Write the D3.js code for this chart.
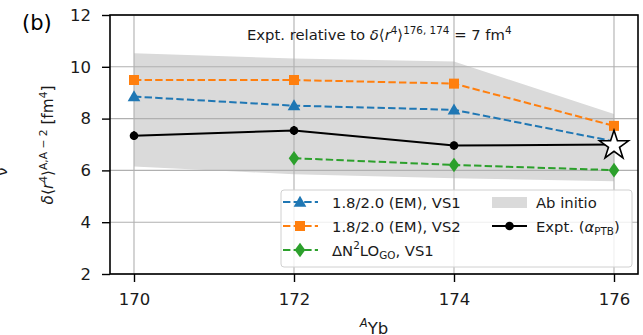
<!DOCTYPE html>
<html>
<head>
<meta charset="utf-8">
<script src="https://cdn.jsdelivr.net/npm/d3@7"></script>
<style>
  body { margin: 0; background: #fff; }
  svg { font-family: "DejaVu Sans", sans-serif; }
</style>
</head>
<body>
<div id="chart"></div>
<script>
// isotopes (mass number A)
const isotopes = [170, 172, 174, 176];
const vs1 = [8.85, 8.5, 8.34, 7.12];
const vs2 = [9.49, 9.49, 9.35, 7.72];
const dn2loIso = [172, 174, 176];
const dn2lo = [6.47, 6.21, 6.01];
const expt = [7.34, 7.54, 6.96, 7.0];
const exptErr = [0.17, 0.17, 0.15, 0];
const bandUpper = [10.52, 10.32, 10.2, 8.18];
const bandLower = [6.15, 5.85, 5.7, 5.58];
const xTicks = [170, 172, 174, 176];
const yTicks = [2, 4, 6, 8, 10, 12];

const width = 643, height = 335;
const plotLeft = 110, plotRight = 638, plotTop = 15, plotBottom = 274;

const svg = d3.select("#chart").append("svg")
    .attr("width", width)
    .attr("height", height);

const x = d3.scaleLinear().domain([169.7, 176.3]).range([plotLeft, plotRight]);
const y = d3.scaleLinear().domain([2, 12]).range([plotBottom, plotTop]);

const blue = "#1f77b4", orange = "#ff7f0e", green = "#2ca02c";

// ab initio band
const band = d3.area()
    .x(function (d, i) { return x(isotopes[i]); })
    .y0(function (d, i) { return y(bandLower[i]); })
    .y1(function (d) { return y(d); });
svg.append("path")
    .datum(bandUpper)
    .attr("d", band)
    .attr("fill", "#dadada");

// grid
const grid = svg.append("g").attr("stroke", "#b0b0b0").attr("stroke-width", 1.1);
grid.selectAll(".gx").data(xTicks).enter().append("line")
    .attr("x1", function (d) { return x(d); }).attr("x2", function (d) { return x(d); })
    .attr("y1", plotTop).attr("y2", plotBottom);
grid.selectAll(".gy").data(yTicks).enter().append("line")
    .attr("y1", function (d) { return y(d); }).attr("y2", function (d) { return y(d); })
    .attr("x1", plotLeft).attr("x2", plotRight);

// axes
const xAxis = svg.append("g")
    .attr("transform", "translate(0," + plotBottom + ")")
    .call(d3.axisBottom(x).tickValues(xTicks).tickSize(8).tickPadding(11).tickFormat(d3.format("d")));
const yAxis = svg.append("g")
    .attr("transform", "translate(" + plotLeft + ",0)")
    .call(d3.axisLeft(y).tickValues(yTicks).tickSize(8).tickPadding(11).tickFormat(d3.format("d")));
[xAxis, yAxis].forEach(function (a) {
    a.select(".domain").remove();
    a.selectAll("line").attr("stroke", "#000").attr("stroke-width", 1.4);
    a.selectAll("text").attr("font-size", 16.5).attr("fill", "#1a1a1a")
        .attr("font-family", "DejaVu Sans, sans-serif");
});

// frame
svg.append("rect")
    .attr("x", plotLeft).attr("y", plotTop)
    .attr("width", plotRight - plotLeft).attr("height", plotBottom - plotTop)
    .attr("fill", "none").attr("stroke", "#000").attr("stroke-width", 1.6);

const line = d3.line();

function dashedSeries(xs, ys, color) {
    svg.append("path")
        .attr("d", line(xs.map(function (v, i) { return [x(v), y(ys[i])]; })))
        .attr("fill", "none").attr("stroke", color)
        .attr("stroke-width", 2).attr("stroke-dasharray", "7.4,3.2");
}

const tri = d3.symbol().type(d3.symbolTriangle).size(70);
const sq = d3.symbol().type(d3.symbolSquare).size(100);
const dia = d3.symbol().type(d3.symbolDiamond).size(62);

// VS1
dashedSeries(isotopes, vs1, blue);
svg.append("g").selectAll("path").data(vs1).enter().append("path")
    .attr("d", tri)
    .attr("transform", function (d, i) { return "translate(" + x(isotopes[i]) + "," + (y(d) + 1) + ")"; })
    .attr("fill", blue);

// VS2
dashedSeries(isotopes, vs2, orange);
svg.append("g").selectAll("path").data(vs2).enter().append("path")
    .attr("d", sq)
    .attr("transform", function (d, i) { return "translate(" + x(isotopes[i]) + "," + y(d) + ")"; })
    .attr("fill", orange);

// DN2LO GO
dashedSeries(dn2loIso, dn2lo, green);
svg.append("g").selectAll("path").data(dn2lo).enter().append("path")
    .attr("d", dia)
    .attr("transform", function (d, i) { return "translate(" + x(dn2loIso[i]) + "," + y(d) + ") scale(1.25,1)"; })
    .attr("fill", green);

// experiment
svg.append("path")
    .attr("d", line(isotopes.map(function (v, i) { return [x(v), y(expt[i])]; })))
    .attr("fill", "none").attr("stroke", "#000").attr("stroke-width", 2);
svg.append("g").selectAll("line").data(expt.slice(0, 3)).enter().append("line")
    .attr("x1", function (d, i) { return x(isotopes[i]); })
    .attr("x2", function (d, i) { return x(isotopes[i]); })
    .attr("y1", function (d, i) { return y(d - exptErr[i]); })
    .attr("y2", function (d, i) { return y(d + exptErr[i]); })
    .attr("stroke", "#000").attr("stroke-width", 2);
svg.append("g").selectAll("circle").data(expt.slice(0, 3)).enter().append("circle")
    .attr("cx", function (d, i) { return x(isotopes[i]); })
    .attr("cy", function (d) { return y(d); })
    .attr("r", 4.3).attr("fill", "#000");
svg.append("path")
    .attr("d", d3.symbol().type(d3.symbolStar).size(260)())
    .attr("transform", "translate(" + x(isotopes[3]) + "," + (y(expt[3]) + 1) + ")")
    .attr("fill", "#fff").attr("stroke", "#000").attr("stroke-width", 1.6)
    .attr("stroke-linejoin", "miter");

// annotation
const ann = svg.append("text")
    .attr("x", 247).attr("y", 40)
    .attr("font-size", 14.8).attr("fill", "#1a1a1a");
ann.append("tspan").text("Expt. relative to ");
ann.append("tspan").attr("font-style", "italic").text("δ");
ann.append("tspan").text("⟨");
ann.append("tspan").attr("font-style", "italic").text("r");
ann.append("tspan").attr("font-size", 10.4).attr("dy", -6.5).text("4");
ann.append("tspan").attr("dy", 6.5).text("⟩");
ann.append("tspan").attr("font-size", 10.4).attr("dy", -6.5).text("176, 174");
ann.append("tspan").attr("dy", 6.5).text(" = 7 fm");
ann.append("tspan").attr("font-size", 10.4).attr("dy", -6.5).text("4");

// legend
const lg = svg.append("g");
lg.append("rect")
    .attr("x", 281).attr("y", 190).attr("width", 351).attr("height", 77)
    .attr("rx", 3).attr("fill", "#fff").attr("fill-opacity", 0.8)
    .attr("stroke", "#d0d0d0").attr("stroke-width", 1);

const rows = [202, 226, 250];
const legendSeries = [
    { color: blue, sym: tri, dy: 1, sx: 1 },
    { color: orange, sym: sq, dy: 0, sx: 1 },
    { color: green, sym: dia, dy: 0, sx: 1.25 }
];
legendSeries.forEach(function (s, i) {
    lg.append("line")
        .attr("x1", 283).attr("x2", 318).attr("y1", rows[i]).attr("y2", rows[i])
        .attr("stroke", s.color).attr("stroke-width", 2).attr("stroke-dasharray", "7.4,3.2");
    lg.append("path").attr("d", s.sym)
        .attr("transform", "translate(300," + (rows[i] + s.dy) + ") scale(" + s.sx + ",1)")
        .attr("fill", s.color);
});
function legendText(xp, yp) {
    return lg.append("text").attr("x", xp).attr("y", yp + 5.5)
        .attr("font-size", 14.8).attr("fill", "#1a1a1a");
}
legendText(332, rows[0]).text("1.8/2.0 (EM), VS1");
legendText(332, rows[1]).text("1.8/2.0 (EM), VS2");
const t3 = legendText(332, rows[2]);
t3.append("tspan").text("ΔN");
t3.append("tspan").attr("font-size", 10.4).attr("dy", -6.5).text("2");
t3.append("tspan").attr("dy", 6.5).text("LO");
t3.append("tspan").attr("font-size", 10.4).attr("dy", 3).text("GO");
t3.append("tspan").attr("dy", -3).text(", VS1");

lg.append("rect").attr("x", 492).attr("y", rows[0] - 5).attr("width", 35).attr("height", 11)
    .attr("fill", "#dadada");
legendText(536, rows[0]).text("Ab initio");
lg.append("line").attr("x1", 492).attr("x2", 527).attr("y1", rows[1]).attr("y2", rows[1])
    .attr("stroke", "#000").attr("stroke-width", 2);
lg.append("line").attr("x1", 509.5).attr("x2", 509.5).attr("y1", rows[1] - 4).attr("y2", rows[1] + 4)
    .attr("stroke", "#000").attr("stroke-width", 2);
lg.append("circle").attr("cx", 509.5).attr("cy", rows[1]).attr("r", 4.3).attr("fill", "#000");
const t5 = legendText(536, rows[1]);
t5.append("tspan").text("Expt. (");
t5.append("tspan").attr("font-style", "italic").text("α");
t5.append("tspan").attr("font-size", 10.4).attr("dy", 3).text("PTB");
t5.append("tspan").attr("dy", -3).text(")");

// axis labels
const yl = svg.append("text")
    .attr("transform", "translate(53,145) rotate(-90)")
    .attr("text-anchor", "middle")
    .attr("font-size", 15.3).attr("fill", "#1a1a1a");
yl.append("tspan").attr("font-style", "italic").text("δ");
yl.append("tspan").text("⟨");
yl.append("tspan").attr("font-style", "italic").text("r");
yl.append("tspan").attr("font-size", 10.7).attr("dy", -6.3).text("4");
yl.append("tspan").attr("dy", 6.3).text("⟩");
yl.append("tspan").attr("font-size", 10.7).attr("dy", -6.3).text("A,A − 2");
yl.append("tspan").attr("dy", 6.3).text(" [fm");
yl.append("tspan").attr("font-size", 10.7).attr("dy", -6.3).text("4");
yl.append("tspan").attr("dy", 6.3).text("]");

const xl = svg.append("text")
    .attr("x", 374).attr("y", 334)
    .attr("text-anchor", "middle")
    .attr("font-size", 16.5).attr("fill", "#1a1a1a");
xl.append("tspan").attr("font-style", "italic").attr("font-size", 11.5).attr("dy", -7).text("A");
xl.append("tspan").attr("dy", 7).text("Yb");

// panel label
svg.append("text").attr("x", 22).attr("y", 30)
    .attr("font-size", 21).attr("fill", "#000").text("(b)");

// clipped glyph from neighbouring panel
svg.append("text")
    .attr("transform", "translate(7,176) rotate(-90)")
    .attr("font-size", 15).attr("fill", "#1a1a1a").text("ν");
</script>
</body>
</html>
